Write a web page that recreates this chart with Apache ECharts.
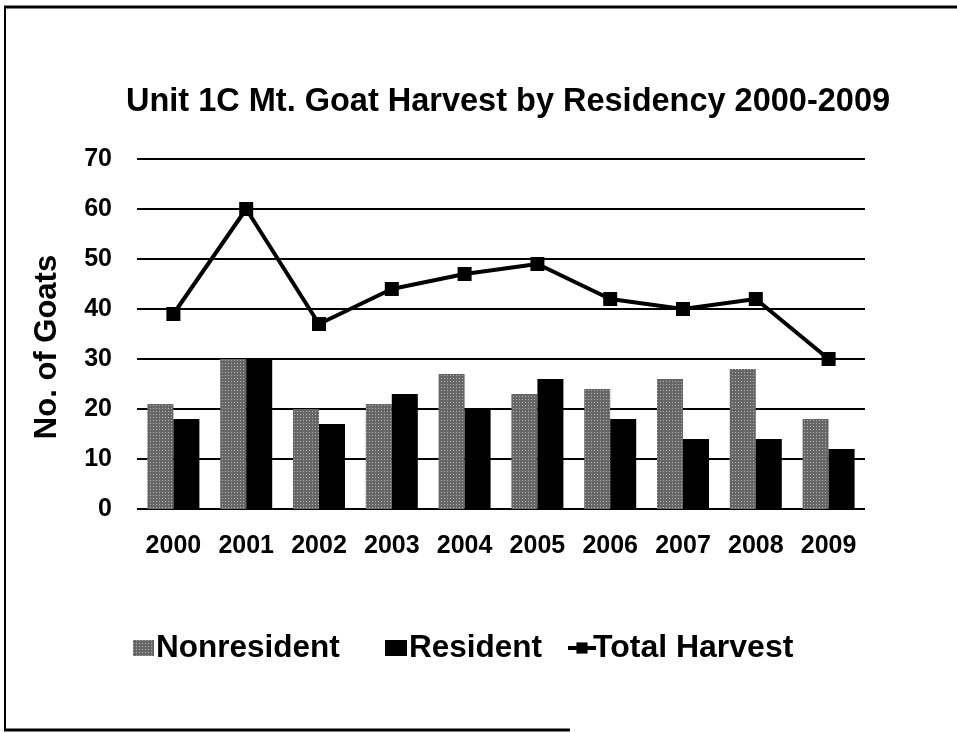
<!DOCTYPE html>
<html>
<head>
<meta charset="utf-8">
<script src="https://cdn.jsdelivr.net/npm/echarts@6/dist/echarts.min.js"></script>
<style>
  html, body { margin: 0; padding: 0; background: #fff; }
  #chart { width: 957px; height: 733px; }
</style>
</head>
<body>
<div id="chart"></div>
<script>
const YEARS = ["2000", "2001", "2002", "2003", "2004", "2005", "2006", "2007", "2008", "2009"];
const NONRESIDENT = [21, 30, 20, 21, 27, 23, 24, 26, 28, 18];
const RESIDENT = [18, 30, 17, 23, 20, 26, 18, 14, 14, 12];
const TOTAL_HARVEST = [39, 60, 37, 44, 47, 49, 42, 40, 42, 30];

const FONT = "'Liberation Sans', Arial, sans-serif";

const nonresidentStyle = {
  color: "#666",
  decal: {
    symbol: "rect",
    symbolSize: 1,
    dashArrayX: [1, 2],
    dashArrayY: [1, 2],
    color: "rgba(255,255,255,0.5)",
  },
};

function legendAt(name, left, width) {
  return {
    data: [{ name: name, icon: "rect" }],
    left: left,
    top: 627,
    itemWidth: width,
    itemHeight: 16,
    itemGap: 0,
    selectedMode: false,
    textStyle: { fontFamily: FONT, fontSize: 31.5, fontWeight: "bold", color: "#000", padding: [0, 0, 0, -3] },
  };
}

const chart = echarts.init(document.getElementById("chart"));

chart.setOption({
  animation: false,
  backgroundColor: "#fff",
  title: {
    text: "Unit 1C Mt. Goat Harvest by Residency 2000-2009",
    left: 503,
    textAlign: "center",
    top: 81,
    textStyle: { fontFamily: FONT, fontSize: 32.5, fontWeight: "bold", color: "#000" },
  },
  legend: [
    legendAt("Nonresident", 128, 21),
    legendAt("Resident", 380, 22),
    {
      data: [{ name: "Total Harvest" }],
      left: 561,
      top: 627,
      itemWidth: 28,
      itemHeight: 14,
      itemGap: 0,
      selectedMode: false,
      lineStyle: { width: 4 },
      textStyle: { fontFamily: FONT, fontSize: 32, fontWeight: "bold", color: "#000", padding: [0, 0, 0, -8] },
    },
  ],
  grid: { left: 137, right: 92, top: 159, bottom: 224 },
  xAxis: {
    type: "category",
    data: YEARS,
    axisLine: { show: false },
    axisTick: { show: false },
    axisLabel: { margin: 25, fontFamily: FONT, fontSize: 25, fontWeight: "bold", color: "#000" },
  },
  yAxis: {
    type: "value",
    min: 0,
    max: 70,
    interval: 10,
    name: "No. of Goats",
    nameLocation: "middle",
    nameGap: 74,
    nameTextStyle: { fontFamily: FONT, fontSize: 31, fontWeight: "bold", color: "#000", padding: [0, 26, 0, 0] },
    axisLine: { show: false },
    axisTick: { show: false },
    axisLabel: { margin: 25, fontFamily: FONT, fontSize: 25, fontWeight: "bold", color: "#000" },
    splitLine: { lineStyle: { color: "#000", width: 2 } },
  },
  series: [
    {
      name: "Nonresident",
      type: "bar",
      data: NONRESIDENT,
      barWidth: 26,
      barGap: "0%",
      itemStyle: nonresidentStyle,
    },
    {
      name: "Resident",
      type: "bar",
      data: RESIDENT,
      barWidth: 26,
      itemStyle: { color: "#000" },
    },
    {
      name: "Total Harvest",
      type: "line",
      data: TOTAL_HARVEST,
      symbol: "rect",
      symbolSize: 14,
      lineStyle: { color: "#000", width: 4 },
      itemStyle: { color: "#000" },
      z: 5,
    },
  ],
  graphic: [
    { type: "line", shape: { x1: 4, y1: 7, x2: 957, y2: 7 }, style: { stroke: "#000", lineWidth: 3 } },
    { type: "line", shape: { x1: 5, y1: 6, x2: 5, y2: 731 }, style: { stroke: "#000", lineWidth: 2 } },
    { type: "line", shape: { x1: 4, y1: 730, x2: 570, y2: 730 }, style: { stroke: "#000", lineWidth: 3 } },
  ],
});
</script>
</body>
</html>
